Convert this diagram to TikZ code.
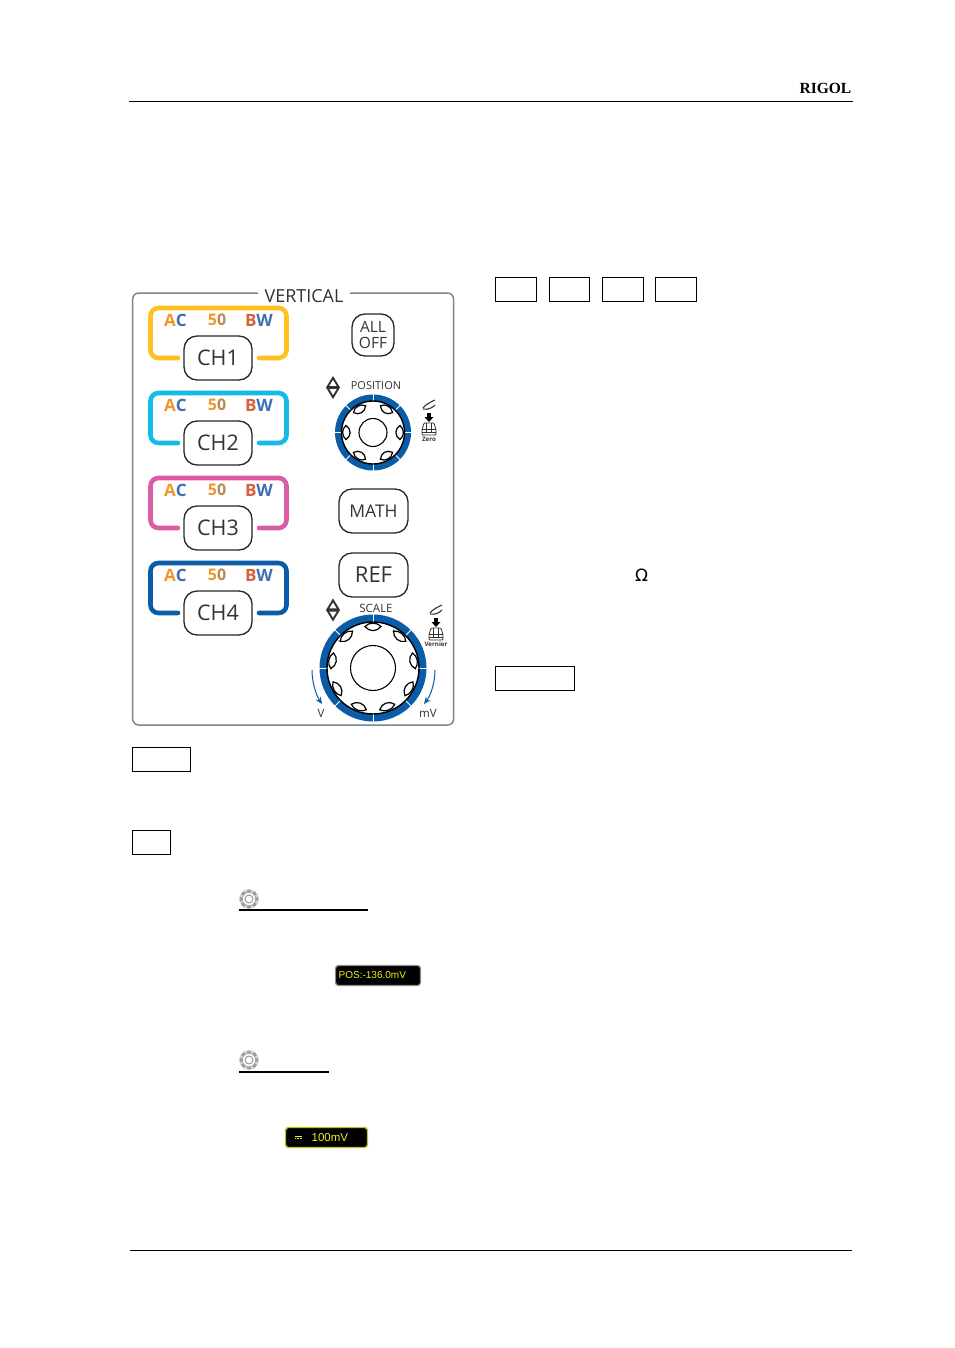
\documentclass[tikz,border=0pt]{standalone}
\usetikzlibrary{arrows.meta}
\usepackage{fontspec}
\setmainfont{Open Sans}
\newfontfamily\brandfnt{Liberation Serif}
\newfontfamily\omegafont{DejaVu Sans}
\newfontfamily\monofnt{Liberation Sans}
\definecolor{panelgray}{HTML}{7F868C}
\definecolor{keyblue}{HTML}{0A5BA8}
\definecolor{cyel}{HTML}{FFC020}
\definecolor{ccya}{HTML}{12BCE6}
\definecolor{cpin}{HTML}{DB5CA6}
\definecolor{lorange}{HTML}{F0962A}
\definecolor{lblue}{HTML}{3E6FB5}
\definecolor{lred}{HTML}{D9603A}
\definecolor{scryel}{HTML}{F0F020}
\definecolor{txtdk}{HTML}{333333}
\tikzset{
  keybtn/.style={draw=black!85,line width=1.3pt,fill=white,rounded corners=13pt,text=txtdk,inner sep=0pt},
  emptybox/.style={draw=black,line width=.7pt,fill=white,inner sep=0pt},
  tinylbl/.style={inner sep=0pt,text=txtdk},
  leafst/.style={draw=black,line width=1.2pt,fill=white},
  bracket/.style={line width=4.6pt,line cap=round,rounded corners=8pt},
  rule/.style={draw=black,line width=.8pt},
}
\newcommand{\acrow}[1]{%
  \node[tinylbl,font=\fontsize{17}{17}\selectfont\bfseries] (ac#1) at (175.5,#1) {\textcolor{lorange}{A}\textcolor{lblue}{C}};
  \node[tinylbl,font=\fontsize{16}{16}\selectfont\bfseries] (ft#1) at (217,#1) {\textcolor{lorange}{5}\textcolor{lorange!70!lblue}{0}};
  \node[tinylbl,font=\fontsize{17}{17}\selectfont\bfseries] (bw#1) at (259,#1) {\textcolor{lred}{B}\textcolor{lblue}{W}};
}
\newcommand{\chgroup}[3]{% name, centre y, colour
  \pgfmathsetmacro{\yb}{#2}
  \pgfmathsetmacro{\yt}{#2-50}
  \pgfmathsetmacro{\yl}{#2-38}
  \draw[bracket,draw=#3] (178,\yb) -- (150.5,\yb) -- (150.5,\yt) -- (286.5,\yt) -- (286.5,\yb) -- (259,\yb);
  \acrow{\yl}
  \node[keybtn,minimum width=68pt,minimum height=44pt,font=\fontsize{21.5}{21.5}\selectfont] (#1) at (218,#2) {\raisebox{-1pt}{#1}};
}
% name,cx,cy,outer,inner,hub,leaves list,half length of leaf
\newcommand{\knob}[8]{%
  \fill[keyblue] (#2,#3) circle (#4);
  \foreach \a in {0,45,...,315}
    \draw[white,line width=.9pt] (#2,#3) ++(\a:#5) -- ++(\a:#4-#5+1);
  \draw[black,line width=1.4pt,fill=white] (#2,#3) circle (#5);
  \foreach \a in {#7}
    \path[leafst,shift={(#2,#3)},rotate=\a] (#5-4.5,-#8) .. controls (#5-10,-#8/2) and (#5-10,#8/2) .. (#5-4.5,#8) .. controls (#5,#8/2) and (#5,-#8/2) .. cycle;
  \node[draw=black,line width=1.1pt,circle,minimum size=2*#6,inner sep=0pt,fill=white] (#1) at (#2,#3) {};
}
\newcommand{\updown}[2]{% cx, cy
  \fill[txtdk] (#1,#2-11.5) -- (#1+7,#2) -- (#1,#2+11.5) -- (#1-7,#2) -- cycle;
  \fill[white] (#1,#2-7.5) -- (#1+3.6,#2-1.6) -- (#1-3.6,#2-1.6) -- cycle;
  \fill[white] (#1,#2+7.5) -- (#1+3.6,#2+1.6) -- (#1-3.6,#2+1.6) -- cycle;
}
\newcommand{\pressicon}[3]{% cx, cy, text
  \draw[txtdk,line width=1.1pt] (#1-6,#2-17) .. controls (#1-3,#2-21) and (#1+2,#2-23) .. (#1+6,#2-25);
  \draw[txtdk,line width=1.1pt] (#1-6,#2-16) .. controls (#1-1,#2-15) and (#1+3,#2-17) .. (#1+6,#2-20);
  \fill[black] (#1-1.9,#2-12) -- (#1+1.9,#2-12) -- (#1+1.9,#2-8) -- (#1+4.5,#2-8) -- (#1,#2-3) -- (#1-4.5,#2-8) -- (#1-1.9,#2-8) -- cycle;
  \draw[txtdk,line width=.8pt,rounded corners=1pt] (#1-7,#2+10) -- (#1-7,#2+5) -- (#1-5,#2-2) -- (#1+5,#2-2) -- (#1+7,#2+5) -- (#1+7,#2+10) -- cycle;
  \draw[txtdk,line width=.7pt] (#1-7,#2+4) -- (#1+7,#2+4) (#1-2.5,#2-2) -- (#1-2.5,#2+7) (#1+2.5,#2-2) -- (#1+2.5,#2+7) (#1-7,#2+7) -- (#1+7,#2+7);
  \node[tinylbl,font=\fontsize{6.2}{6.5}\selectfont\bfseries] at (#1,#2+14.5) {#3};
}
\newcommand{\gearicon}[3]{% name, cx, cy
  \fill[black!38] (#2,#3) circle (9.6);
  \foreach \a in {22.5,67.5,...,337.5}
    \fill[black!14] (#2,#3) ++(\a:8.2) circle (1.6);
  \fill[white] (#2,#3) circle (6.2);
  \node[draw=black!40,line width=1pt,circle,minimum size=8pt,inner sep=0pt,fill=white] (#1) at (#2,#3) {};
}
\begin{document}
\begin{tikzpicture}[x=1pt,y=-1pt]
\useasboundingbox[fill=white] (0,0) rectangle (954,1348);
% header and footer
\node[anchor=east,inner sep=0pt,font=\brandfnt\bfseries\fontsize{15.5}{16}\selectfont] (brand) at (851.5,88) {RIGOL};
\coordinate (hl) at (129,101); \coordinate (hr) at (853,101);
\draw[rule] (hl) -- (hr);
\coordinate (fl) at (130,1250); \coordinate (fr) at (852,1250);
\draw[rule] (fl) -- (fr);
% panel
\draw[draw=panelgray,line width=1.5pt,rounded corners=6pt] (132.7,293) rectangle (453.6,725);
\node[fill=white,inner xsep=7pt,inner ysep=1pt,text=txtdk,font=\fontsize{18}{18}\selectfont] (vert) at (304,296) {VERTICAL};
% channels
\chgroup{CH1}{358}{cyel}
\chgroup{CH2}{443}{ccya}
\chgroup{CH3}{528}{cpin}
\chgroup{CH4}{613}{keyblue}
% right column
\node[keybtn,minimum width=42pt,minimum height=42pt,align=center,font=\fontsize{15.5}{15.5}\selectfont] (alloff) at (373,335) {ALL\\OFF};
\updown{333}{387.5}
\node[tinylbl,font=\fontsize{11}{11}\selectfont] (postxt) at (376,386) {POSITION};
\knob{posknob}{373}{432.5}{38}{31.5}{14}{0,60,120,180,240,300}{7}
\pressicon{429}{425}{Zero}
\node[keybtn,minimum width=69pt,minimum height=44pt,font=\fontsize{17.5}{17.5}\selectfont] (math) at (373.5,511) {MATH};
\node[keybtn,minimum width=69pt,minimum height=44pt,font=\fontsize{22}{22}\selectfont] (ref) at (373.5,575) {REF};
\updown{333}{610}
\node[tinylbl,font=\fontsize{11.5}{11.5}\selectfont] (scaletxt) at (376,608) {SCALE};
\knob{scaleknob}{373}{668}{53.5}{46}{22.5}{90,130,170,210,250,290,330,10,50}{8}
\pressicon{436}{630}{Vernier}
\coordinate (la) at (312,670); \coordinate (lb) at (322,704);
\coordinate (ra) at (435,670); \coordinate (rb) at (424,704);
\draw[keyblue,line width=1pt,-{Stealth[length=7pt,width=6pt]}] (la) .. controls (312,682) and (316,695) .. (lb);
\draw[keyblue,line width=1pt,-{Stealth[length=7pt,width=6pt]}] (ra) .. controls (435,682) and (431,695) .. (rb);
\node[tinylbl,font=\fontsize{11.5}{11.5}\selectfont] (vlbl) at (321,713) {V};
\node[tinylbl,font=\fontsize{11.5}{11.5}\selectfont] (mvlbl) at (428,713) {mV};
% empty key frames
\node[emptybox,minimum width=41.3pt,minimum height=24.3pt] (k1) at (516,289.5) {};
\node[emptybox,minimum width=40.3pt,minimum height=24.3pt] (k2) at (569.5,289.5) {};
\node[emptybox,minimum width=41.3pt,minimum height=24.3pt] (k3) at (623,289.5) {};
\node[emptybox,minimum width=41.3pt,minimum height=24.3pt] (k4) at (676,289.5) {};
\node[emptybox,minimum width=79.3pt,minimum height=24.3pt] (k5) at (535,678.5) {};
\node[emptybox,minimum width=58.3pt,minimum height=24.3pt] (k6) at (161.5,759.5) {};
\node[emptybox,minimum width=38.3pt,minimum height=24.3pt] (k7) at (151.5,842.5) {};
\node[inner sep=0pt,font=\omegafont\fontsize{17}{17}\selectfont] (ohm) at (641.5,575) {Ω};
% inline icons
\gearicon{g1}{249}{899}
\coordinate (u1a) at (239,910); \coordinate (u1b) at (368,910);
\draw[black,line width=1.3pt] (u1a) -- (u1b);
\gearicon{g2}{249}{1060}
\coordinate (u2a) at (239,1072); \coordinate (u2b) at (329,1072);
\draw[black,line width=1.3pt] (u2a) -- (u2b);
% on-screen readouts
\node[draw=black!45,line width=1.2pt,fill=black,rounded corners=3pt,minimum width=85pt,minimum height=20pt,inner sep=0pt] (posbox) at (378,975.5) {};
\node[anchor=west,inner sep=0pt,text=scryel,font=\monofnt\fontsize{10}{10}\selectfont] (postext) at (338.5,975.5) {POS:-136.0mV};
\node[draw=scryel!80!black,line width=1.3pt,fill=black,rounded corners=3pt,minimum width=82pt,minimum height=20pt,inner sep=0pt] (volbox) at (326.5,1137.5) {};
\node[anchor=west,inner sep=0pt,text=scryel,font=\monofnt\fontsize{11.5}{11.5}\selectfont] (voltext) at (311.5,1137.5) {100mV};
\coordinate (d1) at (295,1136.3); \coordinate (d2) at (302,1136.3);
\coordinate (d3) at (295,1138.7); \coordinate (d4) at (302,1138.7);
\draw[scryel,line width=.5pt] (d1) -- (d2);
\draw[scryel,line width=.5pt,dash pattern=on 1pt off .6pt] (d3) -- (d4);
\end{tikzpicture}
\end{document}
